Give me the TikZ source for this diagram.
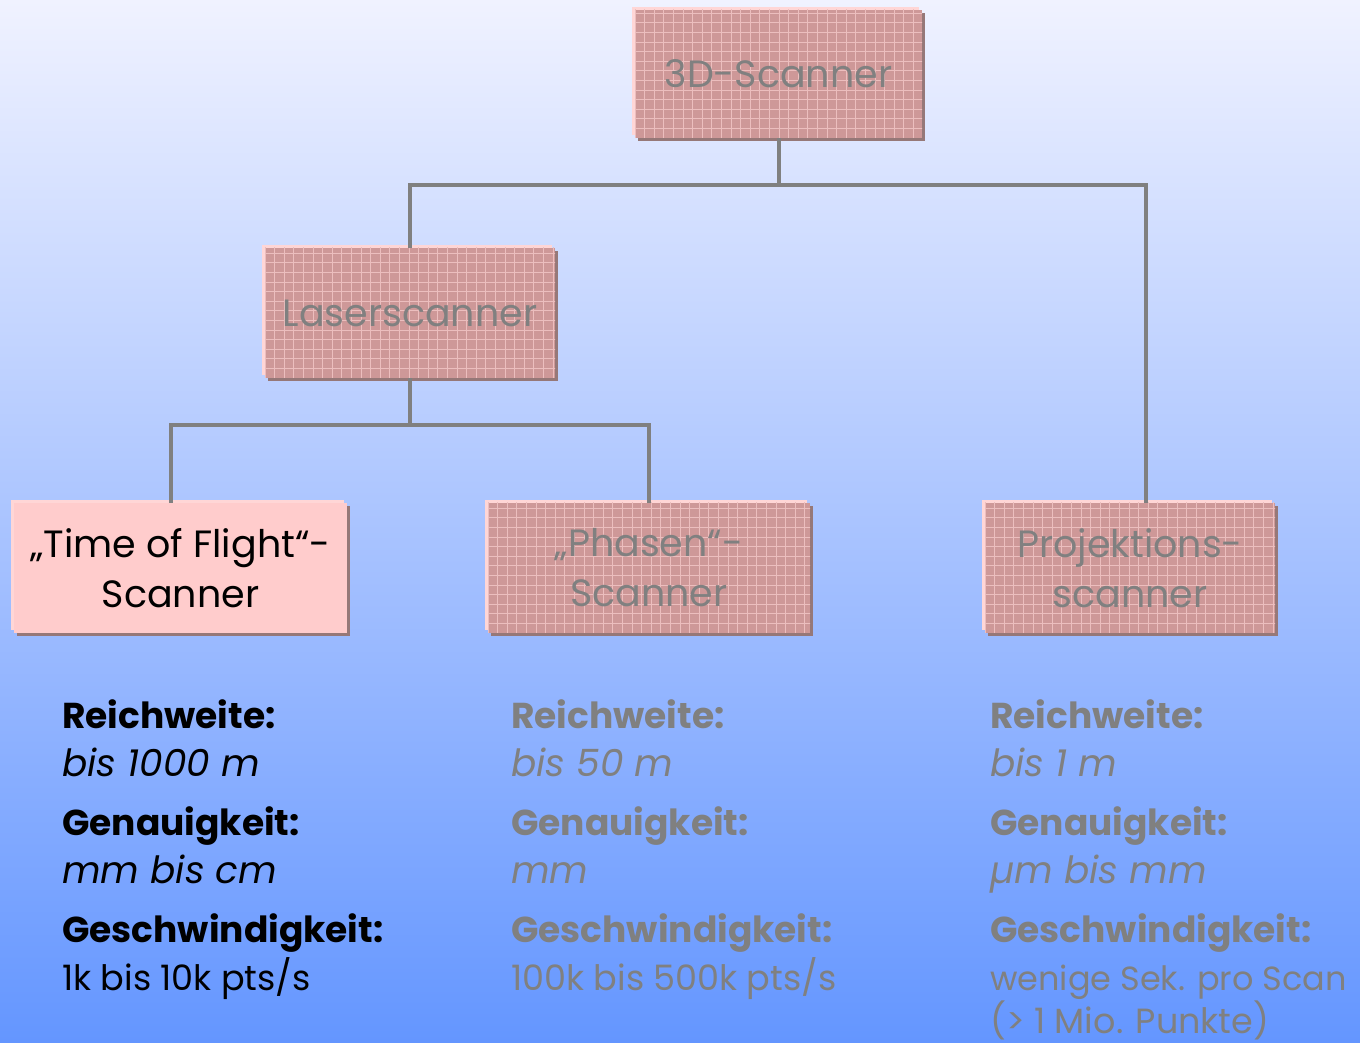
\documentclass[tikz,border=0pt]{standalone}
\usepackage{fontspec}
\setmainfont{Poppins}
\usepackage{xcolor}
\usetikzlibrary{positioning,calc,shadows}

\definecolor{bgtop}{RGB}{240,242,255}
\definecolor{bgmid}{RGB}{170,192,255}
\definecolor{bgbot}{RGB}{100,150,255}
\definecolor{boxfill}{RGB}{206,152,152}
\definecolor{gridpink}{RGB}{236,190,190}
\definecolor{tofpink}{RGB}{255,204,204}
\definecolor{shadowbrown}{RGB}{150,120,120}
\definecolor{lightpink}{RGB}{255,214,214}
\definecolor{linegray}{RGB}{128,128,128}

\newcommand{\factlabel}[1]{{\fontsize{36}{48}\selectfont\bfseries #1}}
\newcommand{\factvalue}[1]{{\fontsize{37.5}{48}\selectfont\itshape #1}}

\tikzset{
  scanbox/.style={minimum width=290, minimum height=130, align=center, inner sep=0,
    font=\fontsize{38}{50}\selectfont, text=linegray, fill=boxfill,
    general shadow={shadow xshift=-3, shadow yshift=3, fill=lightpink},
    general shadow={shadow xshift=3, shadow yshift=-3, fill=shadowbrown},
    path picture={
      \foreach \k in {0,...,35}
        \draw[gridpink, line width=0.9]
          ($(path picture bounding box.south west)+(\k*9.6,0)$) -- ++(0,140);
      \foreach \k in {0,...,14}
        \draw[gridpink, line width=0.9]
          ($(path picture bounding box.south west)+(0,\k*9.6)$) -- ++(350,0);
    }},
  tofbox/.style={scanbox, fill=tofpink, text=black, path picture={}},
  treeline/.style={draw=linegray, line width=4},
  infotext/.style={anchor=base west, align=left, inner sep=0,
    font=\fontsize{35}{48}\selectfont}
}

\begin{document}
\begin{tikzpicture}[x=1pt,y=1pt]
  \shade[top color=bgtop, middle color=bgmid, bottom color=bgbot] (0,0) rectangle (1360,1042);
  \useasboundingbox (0,0) rectangle (1360,1042);

  % boxes
  \node[scanbox, minimum width=287, minimum height=128] (top) at (778.5,968) {3D-Scanner};
  \node[scanbox] (laser) at (410,729) {Laserscanner};
  \node[tofbox, minimum width=333] (tof) at (180.5,474) {„Time of Flight“-\\Scanner};
  \node[scanbox, minimum width=322] (phase) at (649,474) {„Phasen“-\\Scanner};
  \node[scanbox] (proj) at (1130,474) {Projektions-\\scanner};

  % tree
  \coordinate (topfork) at ($(top.south)+(0,-47)$);
  \coordinate (laserfork) at ($(laser.south)+(0,-47)$);
  \draw[treeline] (top.south) -- (topfork) -| (laser.north);
  \draw[treeline] (topfork) -| ([xshift=16]proj.north);
  \draw[treeline] (laser.south) -- (laserfork) -| ([xshift=-10]tof.north);
  \draw[treeline] (laserfork) -| (phase.north);

  % facts (base = last line)
  \node[infotext] (tofinfo) at (62,52) {%
    \factlabel{Reichweite:}\\ \factvalue{bis 1000 m}\\[11pt]
    \factlabel{Genauigkeit:}\\ \factvalue{mm bis cm}\\[11pt]
    \factlabel{Geschwindigkeit:}\\ 1k bis 10k pts/s};
  \node[infotext, text=linegray] (phaseinfo) at (511,52) {%
    \factlabel{Reichweite:}\\ \factvalue{bis 50 m}\\[11pt]
    \factlabel{Genauigkeit:}\\ \factvalue{mm}\\[11pt]
    \factlabel{Geschwindigkeit:}\\ 100k bis 500k pts/s};
  \node[infotext, text=linegray] (projinfo) at (990,9) {%
    \factlabel{Reichweite:}\\ \factvalue{bis 1 m}\\[11pt]
    \factlabel{Genauigkeit:}\\ \factvalue{µm bis mm}\\[11pt]
    \factlabel{Geschwindigkeit:}\\ {\fontsize{33.5}{48}\selectfont wenige Sek. pro Scan}\\[-5pt]
    (> 1 Mio. Punkte)};
\end{tikzpicture}
\end{document}
